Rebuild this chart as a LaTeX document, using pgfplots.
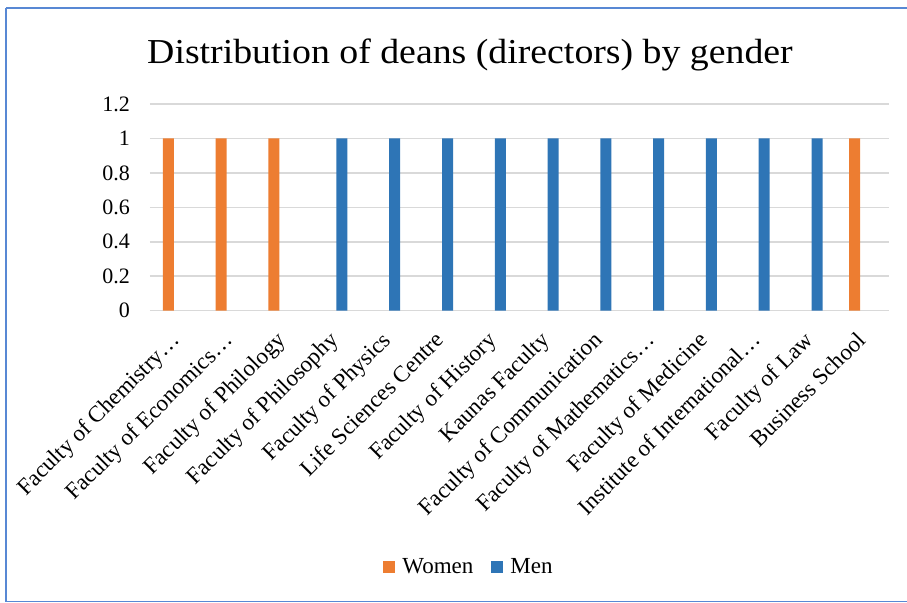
\documentclass[border=0pt]{standalone}
\usepackage{fontspec}
\setmainfont{Liberation Serif}
\usepackage{pgfplots}
\pgfplotsset{compat=1.18}
\definecolor{women}{RGB}{237,125,49}
\definecolor{men}{RGB}{46,117,182}
\definecolor{frame}{RGB}{88,136,212}
\definecolor{gridc}{RGB}{217,217,217}

\begin{document}
\begin{tikzpicture}
% page = 907 x 603 px, 1 px = 0.5 pt
\useasboundingbox (0,0) rectangle (453.5pt,301.5pt);
\draw[frame, line width=0.6pt] (453.5pt,297.5pt) -- (3pt,297.5pt);
\draw[frame, line width=1.1pt] (3pt,297.5pt) -- (3pt,0.6pt);
\draw[frame, line width=0.6pt] (3pt,0.6pt) -- (453.5pt,0.6pt);
\node[font=\fontsize{17.5}{20}\selectfont, anchor=base, xscale=1.08, inner sep=0pt]
  at (235pt,269.9pt) {Distribution of deans (directors) by gender};
\begin{axis}[
  scale only axis, width=369.5pt, height=103.35pt,
  at={(75pt,146.15pt)}, anchor=south west,
  xmin=-0.5, xmax=13.5, ymin=0, ymax=1.2,
  ytick={0,0.2,0.4,0.6,0.8,1,1.2},
  xtick={0,...,13},
  xticklabels={Faculty of Chemistry…, Faculty of Economics…, Faculty of Philology,
    Faculty of Philosophy, Faculty of Physics, Life Sciences Centre, Faculty of History,
    Kaunas Faculty, Faculty of Communication, Faculty of Mathematics…,
    Faculty of Medicine, Institute of International…, Faculty of Law, Business School},
  axis line style={draw=none},
  major tick length=0pt,
  ymajorgrids, grid style={gridc, line width=0.8pt},
  /pgf/number format/assume math mode=true,
  yticklabel style={font=\fontsize{11}{13}\selectfont, xshift=-6.5pt},
  xticklabel style={font=\fontsize{11.5}{14}\selectfont, xshift=-3.5pt, yshift=-9.5pt,
    rotate=45, anchor=north east, inner sep=0pt},
  legend columns=2,
  legend style={at={(0.433,-1.24)}, anchor=center, draw=none,
    font=\fontsize{11.5}{13}\selectfont, column sep=0pt,
    /tikz/every odd column/.style={column sep=1.5pt},
    /tikz/every even column/.style={column sep=7pt}},
  legend image code/.code={\fill[#1] (0pt,-3pt) rectangle (6pt,3pt);},
]
\addplot[ybar, bar width=5.5pt, bar shift=-4pt, fill=women, draw=none]
  coordinates {(0,1) (1,1) (2,1) (13,1)};
\addlegendentry{Women}
\addplot[ybar, bar width=5.5pt, bar shift=3.6pt, fill=men, draw=none]
  coordinates {(3,1) (4,1) (5,1) (6,1) (7,1) (8,1) (9,1) (10,1) (11,1) (12,1)};
\addlegendentry{Men}
\end{axis}
\end{tikzpicture}
\end{document}
